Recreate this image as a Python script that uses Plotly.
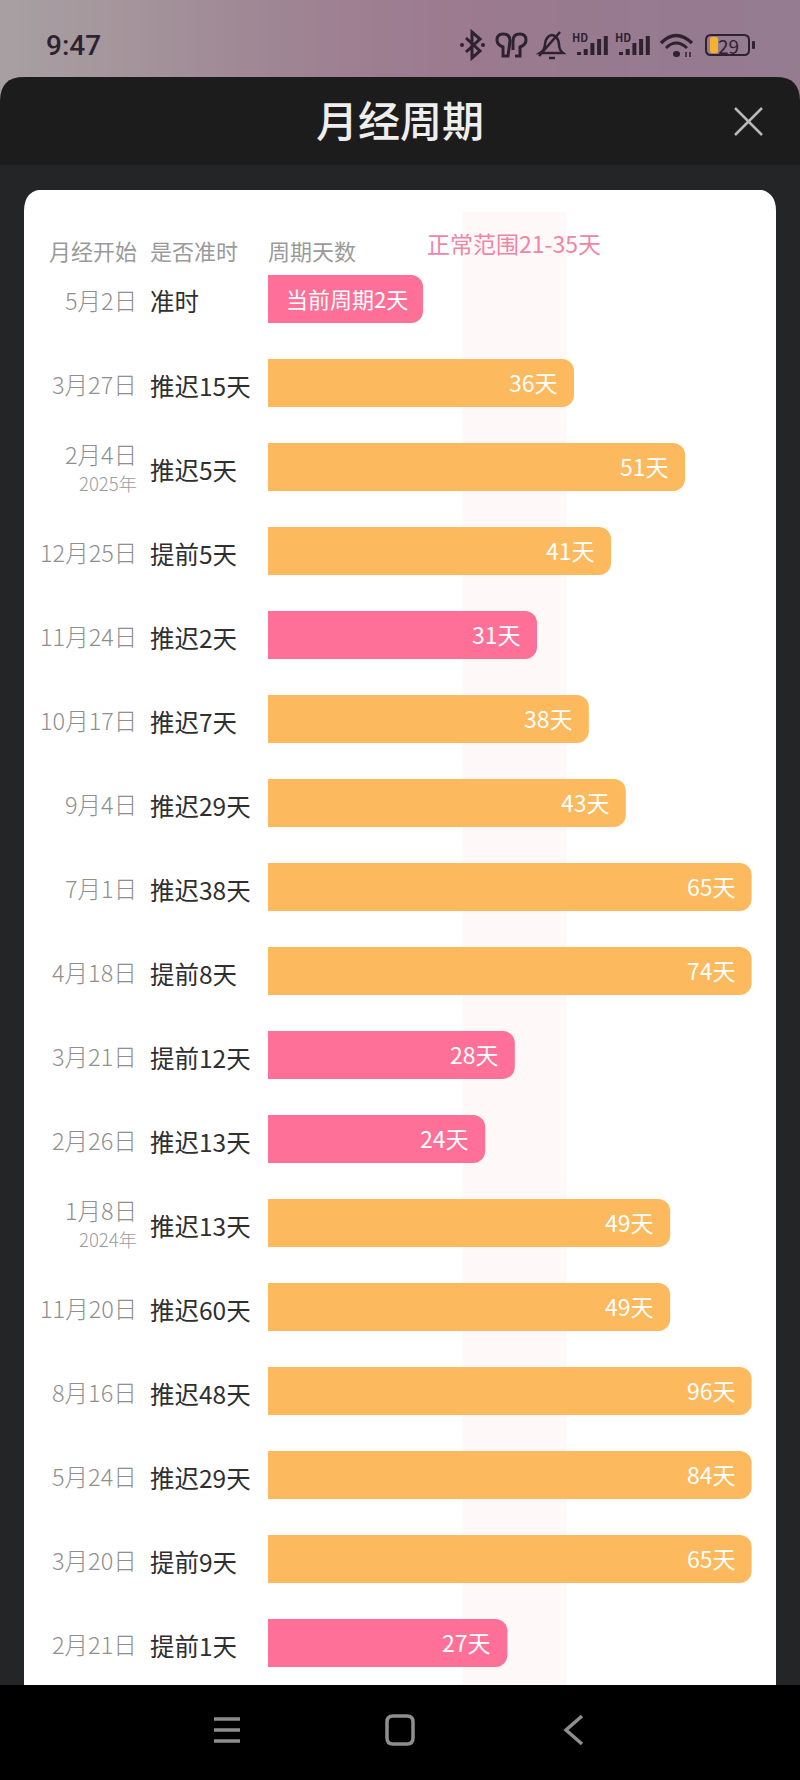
import plotly.graph_objects as go

W, H = 800, 1780

fechas = ["5月2日", "3月27日", "2月4日", "12月25日", "11月24日", "10月17日", "9月4日", "7月1日", "4月18日",
          "3月21日", "2月26日", "1月8日", "11月20日", "8月16日", "5月24日", "3月20日", "2月21日"]
anios = {2: "2025年", 11: "2024年"}
estados = ["准时", "推迟15天", "推迟5天", "提前5天", "推迟2天", "推迟7天", "推迟29天", "推迟38天", "提前8天",
           "提前12天", "推迟13天", "推迟13天", "推迟60天", "推迟48天", "推迟29天", "提前9天", "提前1天"]
dias = [2, 36, 51, 41, 31, 38, 43, 65, 74, 28, 24, 49, 49, 96, 84, 65, 27]
encabezados = ["月经开始", "是否准时", "周期天数"]
rango_normal = [21, 35]
tope = 60          # longer cycles are cut at the edge of the card
largo_actual = 15.6  # the current cycle bar only wraps its label
base = -5.35
fondo_estado = ["#a7a0a3", "#a5969c", "#a08a96", "#9e8092", "#9c7a8f", "#987a8f", "#967b90", "#957c91"]

ROSA = "#fe7098"
NARANJA = "#fdb95d"
FUENTE = "Noto Sans CJK SC"

n = len(dias)
filas = list(range(n))
largos = [largo_actual] + [min(d, tope) for d in dias[1:]]
colores = [ROSA] + [ROSA if rango_normal[0] <= d <= rango_normal[1] else NARANJA for d in dias[1:]]
etiquetas = ["当前周期2天"] + [str(d) + "天" for d in dias[1:]]


def pth(s):
    # path written in screen pixels -> paper coordinates
    out = []
    es_x = True
    for t in s.split():
        if t.isalpha():
            out.append(t)
        elif es_x:
            out.append(str(round(float(t) / W, 5)))
            es_x = False
        else:
            out.append(str(round(1 - float(t) / H, 5)))
            es_x = True
    return " ".join(out)


def caja(x0, y0, x1, y1, r):
    return (f"M {x0} {y0 + r} Q {x0} {y0} {x0 + r} {y0} L {x1 - r} {y0} Q {x1} {y0} {x1} {y0 + r} "
            f"L {x1} {y1 - r} Q {x1} {y1} {x1 - r} {y1} L {x0 + r} {y1} Q {x0} {y1} {x0} {y1 - r} Z")


shapes = []


def relleno(s, color, layer="below"):
    shapes.append(dict(type="path", xref="paper", yref="paper", path=pth(s), fillcolor=color,
                       line=dict(width=0), layer=layer))


def trazo(s, color, ancho, layer="above"):
    shapes.append(dict(type="path", xref="paper", yref="paper", path=pth(s),
                       line=dict(color=color, width=ancho), layer=layer))


# panels
relleno(caja(0, 77, 800, 190, 24), "#1c1c1c", "above")
relleno("M 0 165 L 800 165 L 800 190 L 0 190 Z", "#242527", "above")
relleno(caja(24, 189, 776, 1720, 22), "#ffffff")
shapes.append(dict(type="rect", xref="x", yref="paper", x0=rango_normal[0], x1=rango_normal[1],
                   y0=1 - 1685 / H, y1=1 - 212 / H, fillcolor="#fff8f9", line=dict(width=0), layer="below"))
relleno("M 0 1685 L 800 1685 L 800 1780 L 0 1780 Z", "#000000")

# close button
trazo("M 735 108 L 762 135", "#b9b9b9", 2.5)
trazo("M 762 108 L 735 135", "#b9b9b9", 2.5)

# status bar icons
OSC = "#2e2230"
trazo("M 466 38 L 480 51 L 472 58 L 472 32 L 480 39 L 466 52", OSC, 3)
relleno(caja(460, 43, 464, 47, 2), OSC, "above")
relleno(caja(481, 43, 485, 47, 2), OSC, "above")
trazo("M 508 56 L 503 56 Q 503 48 503 47 Q 497 45 497 40 Q 497 34 503 34 Q 510 34 510 41 Z", OSC, 3)
trazo("M 515 56 L 520 56 Q 520 48 520 47 Q 526 45 526 40 Q 526 34 520 34 Q 513 34 513 41 L 513 50", OSC, 3)
trazo("M 540 53 Q 545 50 545 44 Q 546 36 552 35 Q 558 36 559 44 Q 559 50 563 53 Z", OSC, 2.5)
trazo("M 549 58 L 555 58", OSC, 2.5)
trazo("M 539 56 L 560 32", OSC, 2.5)
for x0 in [577, 619]:
    for i, top in enumerate([52, 49, 43, 39, 36]):
        x1 = x0 + i * 6.7
        relleno(f"M {x1} {top} L {x1 + 4} {top} L {x1 + 4} 55 L {x1} 55 Z", OSC, "above")
trazo("M 661 43 Q 676 28 692 43", OSC, 3.5)
trazo("M 666 48 Q 676 38 687 48", OSC, 3)
relleno(caja(673, 51, 680, 57, 3), OSC, "above")
trazo("M 686 52 L 686 57", OSC, 1.5)
trazo("M 690 52 L 690 57", OSC, 1.5)
relleno(caja(710, 37, 718, 53, 2), "#f4b32e", "above")
trazo(caja(706, 35, 749, 55, 5), OSC, 2)
relleno(caja(752, 41, 755, 49, 1), OSC, "above")

# navigation bar
GRIS = "#8e8e8e"
for y in [1719, 1730, 1741]:
    trazo(f"M 214 {y} L 240 {y}", GRIS, 3.5)
trazo(caja(387, 1716, 413, 1744, 6), GRIS, 3.5)
trazo("M 582 1716 L 566 1730 L 582 1744", GRIS, 3.5)

anotaciones = []


def texto(x, y, t, size, color, anchor="left", peso=None):
    anotaciones.append(dict(xref="paper", yref="paper", x=x / W, y=1 - y / H, text=t, showarrow=False,
                            xanchor=anchor, yanchor="middle", font=dict(family=FUENTE, size=size, color=color,
                                                                       weight=peso)))


texto(400, 118, "月经周期", 42, "#eeeeee", "center", 500)
anotaciones.append(dict(xref="paper", yref="paper", x=44 / W, y=1 - 45 / H, text="9:47", showarrow=False,
                        xanchor="left", yanchor="middle", font=dict(family="Roboto", size=28, color=OSC, weight=500)))
texto(580, 37, "HD", 11, OSC, "center", 700)
texto(623, 37, "HD", 11, OSC, "center", 700)
texto(728, 45, "29", 19, OSC, "center")

texto(139, 250, encabezados[0], 22, "#9a9a9a", "right")
texto(148, 250, encabezados[1], 22, "#9a9a9a")
texto(266, 250, encabezados[2], 22, "#9a9a9a")
texto(425, 243, f"正常范围{rango_normal[0]}-{rango_normal[1]}天", 23, "#ee86a6")

for i in filas:
    centro = 299 + 84 * i
    if i in anios:
        texto(139, centro - 13, fechas[i], 23.5, "#8f8f8f", "right", 300)
        texto(139, centro + 16, anios[i], 18.5, "#9c9c9c", "right", 300)
    else:
        texto(139, centro + 1, fechas[i], 23.5, "#8f8f8f", "right", 300)
    texto(148, centro + 2, estados[i], 24.5, "#2f2f2f")
    anotaciones.append(dict(xref="x", yref="y", x=largos[i], y=i, text=etiquetas[i], showarrow=False,
                            xanchor="right", xshift=-14 if i else -13, yshift=1.5, yanchor="middle",
                            font=dict(family=FUENTE, size=23 if i else 22, color="#ffffff")))

fig = go.Figure()
# status bar background, behind the dark sheet
pos = list(range(len(fondo_estado)))
fig.add_trace(go.Heatmap(x=pos, y=[0, 1], z=[pos, pos], zsmooth="best", showscale=False, hoverinfo="skip",
                         colorscale=[[i / (len(fondo_estado) - 1), c] for i, c in enumerate(fondo_estado)],
                         xaxis="x2", yaxis="y2"))
fig.add_trace(go.Bar(y=filas, x=[l - base for l in largos], base=base, orientation="h", width=48 / 84,
                     marker=dict(color=colores, cornerradius=12, line=dict(width=0)), hoverinfo="skip"))
# square off the left end of the rounded bars
fig.add_trace(go.Bar(y=filas, x=[5] * n, base=base, orientation="h", width=48 / 84,
                     marker=dict(color=colores, cornerradius=0, line=dict(width=0)), hoverinfo="skip"))

fig.update_layout(
    width=W, height=H, margin=dict(l=0, r=0, t=0, b=0), autosize=False,
    paper_bgcolor="#242527", plot_bgcolor="rgba(0,0,0,0)", showlegend=False, barmode="overlay",
    xaxis=dict(range=[-307.6 / 7.4, (W - 307.6) / 7.4], visible=False, fixedrange=True, domain=[0, 1]),
    yaxis=dict(range=[(H - 299) / 84, -299 / 84], visible=False, fixedrange=True, domain=[0, 1]),
    xaxis2=dict(range=[0, len(fondo_estado) - 1], visible=False, fixedrange=True, domain=[0, 1], anchor="y2"),
    yaxis2=dict(range=[0, 1], visible=False, fixedrange=True, domain=[1 - 100 / H, 1], anchor="x2"),
    shapes=shapes, annotations=anotaciones,
)

fig.write_html("out.html", config=dict(displayModeBar=False),
               post_script="document.body.style.margin='0';document.body.style.overflow='hidden';")
